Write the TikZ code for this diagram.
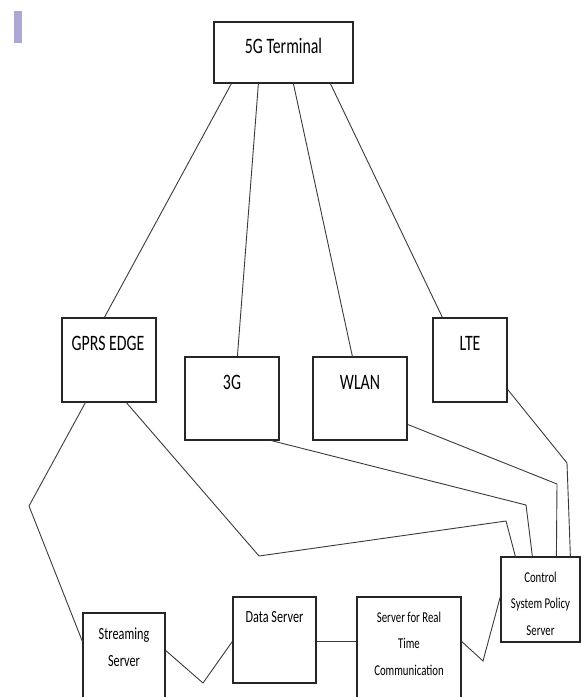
\documentclass[tikz,border=0pt]{standalone}
\usepackage{fontspec}
\setmainfont{Carlito}[FakeStretch=0.72]
\definecolor{barc}{HTML}{A9A9D4}
\definecolor{linec}{HTML}{3A3A3A}
\begin{document}
\begin{tikzpicture}[x=1pt,y=-1pt,
  box/.style={draw=black!85, line width=1.2pt, inner sep=0pt, rectangle},
  link/.style={draw=linec, line width=0.9pt, line join=miter},
  bigtxt/.style={font=\fontsize{22}{26}\selectfont, inner sep=0pt, text=black},
  midtxt/.style={font=\fontsize{17}{27}\selectfont, inner sep=0pt, align=center, text=black},
  smalltxt/.style={font=\fontsize{15}{26.5}\selectfont, inner sep=0pt, align=center, text=black}]
\useasboundingbox (0,0) rectangle (581,697);
\clip (0,0) rectangle (581,697);
\fill[barc] (14,11) rectangle (22,43);
% boxes
\node[box, minimum width=139pt, minimum height=61pt] (g5) at (283.5,52.5) {};
\node[box, minimum width=94pt, minimum height=84pt] (gprs) at (109,360) {};
\node[box, minimum width=94pt, minimum height=83pt] (tg) at (232,398.5) {};
\node[box, minimum width=94pt, minimum height=83pt] (wlan) at (360,398.5) {};
\node[box, minimum width=74pt, minimum height=84pt] (lte) at (470,360) {};
\node[box, minimum width=82pt, minimum height=117pt] (stream) at (124,671.5) {};
\node[box, minimum width=83pt, minimum height=86pt] (data) at (274.5,640) {};
\node[box, minimum width=104pt, minimum height=133pt] (rt) at (409,663.5) {};
\node[box, minimum width=79pt, minimum height=85pt] (ctrl) at (540.5,599.5) {};
% texts
\node[bigtxt] (g5t) at (283.5,46) {5G Terminal};
\node[bigtxt] (gprst) at (108,343) {GPRS EDGE};
\node[bigtxt] (tgt) at (232,382) {3G};
\node[bigtxt] (wlant) at (360,382) {WLAN};
\node[bigtxt] (ltet) at (470,343) {LTE};
\node[midtxt] (streamt) at (124,647.5) {Streaming\\Server};
\node[midtxt] (datat) at (274.5,617) {Data Server};
\node[smalltxt] (rtt) at (409,643.5) {Server for Real\\Time\\Communication};
\node[smalltxt] (ctrlt) at (540.5,603.5) {Control\\System Policy\\Server};
% bend points
\coordinate (k1) at (29,506);
\coordinate (k2) at (259,556);
\coordinate (k3) at (506,521);
\coordinate (k4) at (526,505);
\coordinate (k5) at (557,484);
\coordinate (k6) at (567,463);
\coordinate (k7) at (203,683);
\coordinate (k8) at (483,661);
% connectors
\draw[link] ([xshift=18pt]g5.south west) -- ([xshift=43pt]gprs.north west);
\draw[link] ([xshift=45pt]g5.south west) -- ([xshift=53pt]tg.north west);
\draw[link] ([xshift=80pt]g5.south west) -- ([xshift=40pt]wlan.north west);
\draw[link] ([xshift=117pt]g5.south west) -- ([xshift=10pt]lte.north west);
\draw[link] ([xshift=24pt]gprs.south west) -- (k1) -- ([yshift=-29pt]stream.north west);
\draw[link] ([xshift=65pt]gprs.south west) -- (k2) -- (k3) -- ([xshift=15pt]ctrl.north west);
\draw[link] ([xshift=87pt]tg.south west) -- (k4) -- ([xshift=32pt]ctrl.north west);
\draw[link] ([yshift=-68pt]wlan.north east) -- (k5) -- ([xshift=56pt]ctrl.north west);
\draw[link] ([yshift=-72pt]lte.north east) -- (k6) -- ([xshift=70pt]ctrl.north west);
\draw[link] ([yshift=-38pt]stream.north east) -- (k7) -- ([yshift=-45pt]data.north west);
\draw[link] ([yshift=-45pt]data.north east) -- ([yshift=-45pt]rt.north west);
\draw[link] ([yshift=-45pt]rt.north east) -- (k8) -- ([yshift=-40pt]ctrl.north west);
\end{tikzpicture}
\end{document}
